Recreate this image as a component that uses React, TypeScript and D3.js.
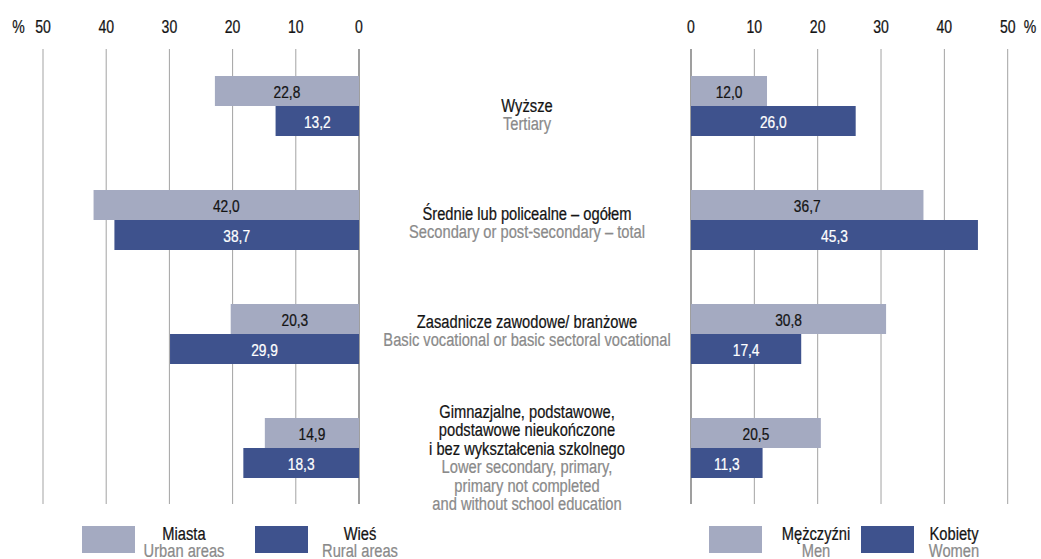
import React from "react";
import * as d3 from "d3";

// ---- data ----
const categoriesPl: string[][] = [
  ["Wyższe"],
  ["Średnie lub policealne – ogółem"],
  ["Zasadnicze zawodowe/ branżowe"],
  ["Gimnazjalne, podstawowe,", "podstawowe nieukończone", "i bez wykształcenia szkolnego"],
];
const categoriesEn: string[][] = [
  ["Tertiary"],
  ["Secondary or post-secondary – total"],
  ["Basic vocational or basic sectoral vocational"],
  ["Lower secondary, primary,", "primary not completed", "and without school education"],
];
const categoryKeys = ["tertiary", "secondary", "vocational", "lower"];
const urbanValues = [22.8, 42.0, 20.3, 14.9];
const ruralValues = [13.2, 38.7, 29.9, 18.3];
const menValues = [12.0, 36.7, 30.8, 20.5];
const womenValues = [26.0, 45.3, 17.4, 11.3];
const tickValues = [0, 10, 20, 30, 40, 50];
const leftLegend = [
  { pl: "Miasta", en: "Urban areas", dark: false },
  { pl: "Wieś", en: "Rural areas", dark: true },
];
const rightLegend = [
  { pl: "Mężczyźni", en: "Men", dark: false },
  { pl: "Kobiety", en: "Women", dark: true },
];

// ---- layout / style ----
const W = 1041;
const H = 559;
const LIGHT = "#a4aac1";
const DARK = "#3e528d";
const GRID = "#a3a3a3";
const ZERO = "#7f7f7f";
const TXT = "#141414";
const GREY_TXT = "#8a8a8a";
const FONT = "'Liberation Sans', Arial, sans-serif";
const SX = 0.79; // horizontal condensing
const labelFirstBaselineDy = [36, 30, 24, 0]; // from group top
const LINE_H = 18.4;
const CENTER_X = 527;
const SIZE_VAL = 17.4;
const SIZE_TICK = 17.8;
const SIZE_LABEL = 18.6;

const fmt = (v: number) => v.toFixed(1).replace(".", ",");

function NText(props: {
  x: number;
  y: number;
  size: number;
  fill: string;
  anchor?: "start" | "middle" | "end";
  children: React.ReactNode;
}) {
  const { x, y, size, fill, anchor = "middle", children } = props;
  return (
    <text
      transform={`translate(${x},${y}) scale(${SX},1)`}
      textAnchor={anchor}
      fontSize={size}
      fill={fill}
      stroke={fill}
      strokeWidth={0.25}
    >
      {children}
    </text>
  );
}

export default function App() {
  const xL = d3.scaleLinear().domain([0, 50]).range([359, 43]);
  const xR = d3.scaleLinear().domain([0, 50]).range([691, 1007.7]);
  const y = d3
    .scaleBand<string>()
    .domain(categoryKeys)
    .range([76, 478])
    .paddingInner(0.4737)
    .paddingOuter(0);
  const ySub = d3.scaleBand<string>().domain(["a", "b"]).range([0, y.bandwidth()]);
  const gridTop = 49;
  const gridBottom = 504;

  const barSet = (
    x: d3.ScaleLinear<number, number>,
    vals: number[],
    sub: string,
    color: string,
    textColor: string,
    side: "L" | "R"
  ) =>
    vals.map((v, i) => {
      const y0 = (y(categoryKeys[i]) ?? 0) + (ySub(sub) ?? 0);
      const x0 = Math.min(x(0), x(v));
      const w = Math.abs(x(v) - x(0));
      return (
        <g key={side + sub + i}>
          <rect x={x0} y={y0} width={w} height={ySub.bandwidth()} fill={color} />
          <NText x={x0 + w / 2} y={y0 + ySub.bandwidth() / 2 + 6.8} size={SIZE_VAL} fill={textColor}>
            {fmt(v)}
          </NText>
        </g>
      );
    });

  const legend = (items: typeof leftLegend, rectXs: number[], textXs: number[]) =>
    items.map((it, i) => (
      <g key={it.pl}>
        <rect x={rectXs[i]} y={526} width={53} height={27} fill={it.dark ? DARK : LIGHT} />
        <NText x={textXs[i]} y={539.5} size={SIZE_LABEL} fill={TXT}>
          {it.pl}
        </NText>
        <NText x={textXs[i]} y={556.5} size={SIZE_LABEL} fill={GREY_TXT}>
          {it.en}
        </NText>
      </g>
    ));

  return (
    <svg
      width={W}
      height={H}
      style={{ position: "absolute", left: 0, top: 0, fontFamily: FONT }}
    >
      <rect width={W} height={H} fill="#fff" />
      {/* grid */}
      {tickValues.map((t) => (
        <g key={"g" + t}>
          <line
            x1={xL(t)}
            x2={xL(t)}
            y1={gridTop}
            y2={gridBottom}
            stroke={t === 0 ? ZERO : GRID}
            strokeWidth={t === 0 ? 1.5 : 1}
          />
          <line
            x1={xR(t)}
            x2={xR(t)}
            y1={gridTop}
            y2={gridBottom}
            stroke={t === 0 ? ZERO : GRID}
            strokeWidth={t === 0 ? 1.5 : 1}
          />
          <NText x={xL(t)} y={33} size={SIZE_TICK} fill={TXT}>
            {t}
          </NText>
          <NText x={xR(t)} y={33} size={SIZE_TICK} fill={TXT}>
            {t}
          </NText>
        </g>
      ))}
      <NText x={18.5} y={33} size={SIZE_TICK} fill={TXT}>
        %
      </NText>
      <NText x={1030} y={33} size={SIZE_TICK} fill={TXT}>
        %
      </NText>
      {/* bars */}
      {barSet(xL, urbanValues, "a", LIGHT, TXT, "L")}
      {barSet(xL, ruralValues, "b", DARK, "#fff", "L")}
      {barSet(xR, menValues, "a", LIGHT, TXT, "R")}
      {barSet(xR, womenValues, "b", DARK, "#fff", "R")}
      {/* category labels */}
      {categoryKeys.map((k, i) => {
        const top = (y(k) ?? 0) + labelFirstBaselineDy[i];
        const lines = [
          ...categoriesPl[i].map((s) => ({ s, c: TXT })),
          ...categoriesEn[i].map((s) => ({ s, c: GREY_TXT })),
        ];
        return (
          <g key={"c" + k}>
            {lines.map((l, j) => (
              <NText key={j} x={CENTER_X} y={top + j * LINE_H} size={SIZE_LABEL} fill={l.c}>
                {l.s}
              </NText>
            ))}
          </g>
        );
      })}
      {/* legends */}
      {legend(leftLegend, [82, 255], [184, 360])}
      {legend(rightLegend, [709, 861], [816, 954])}
    </svg>
  );
}
